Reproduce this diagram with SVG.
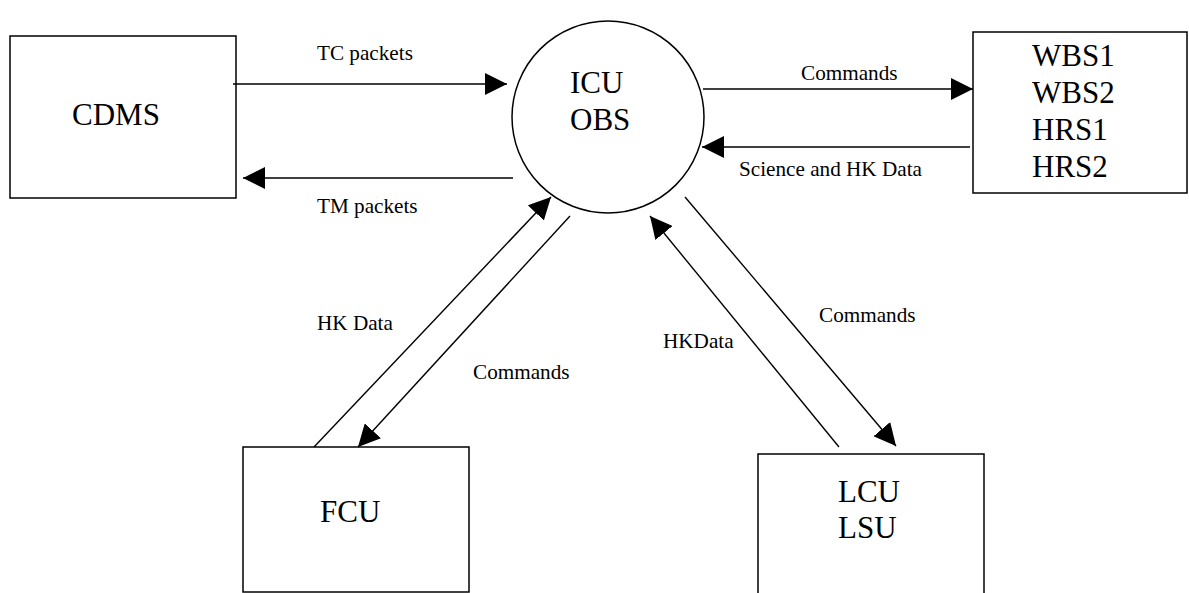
<svg xmlns="http://www.w3.org/2000/svg" width="1189" height="593" viewBox="0 0 1189 593">
<style>
.box{fill:#fff;stroke:#000;stroke-width:1.5}
.big{font-family:'Liberation Serif','Times New Roman','DejaVu Serif',serif;font-size:31px;fill:#000}
.lbl{font-family:'Liberation Serif','Times New Roman','DejaVu Serif',serif;font-size:21.2px;fill:#000}
.ln{stroke:#000;stroke-width:1.4;fill:none;marker-end:url(#ah)}
</style>
<defs>
<marker id="ah" markerUnits="userSpaceOnUse" markerWidth="22" markerHeight="22" refX="22" refY="11" orient="auto" viewBox="0 0 22 22">
<path d="M0,0 L22,11 L0,22 z" fill="#000"/>
</marker>
</defs>
<rect width="1189" height="593" fill="#fff"/>
<g id="cdms">
<rect class="box" x="10" y="36" width="226" height="162"/>
<text class="big" x="72" y="125">CDMS</text>
</g>
<g id="icu">
<circle class="box" cx="608" cy="117" r="96"/>
<text class="big" x="570" y="93">ICU</text>
<text class="big" x="570" y="130">OBS</text>
</g>
<g id="instruments">
<rect class="box" x="973" y="32" width="214" height="161"/>
<text class="big" x="1032" y="66">WBS1</text>
<text class="big" x="1032" y="103">WBS2</text>
<text class="big" x="1032" y="140">HRS1</text>
<text class="big" x="1032" y="177">HRS2</text>
</g>
<g id="fcu">
<rect class="box" x="243" y="447" width="226" height="145"/>
<text class="big" x="320" y="522">FCU</text>
</g>
<g id="lcu">
<rect class="box" x="758" y="454" width="226" height="145"/>
<text class="big" x="838" y="502">LCU</text>
<text class="big" x="838" y="538">LSU</text>
</g>
<g id="connectors">
<line class="ln" x1="233" y1="84" x2="507" y2="84"/>
<line class="ln" x1="513" y1="178" x2="243" y2="178"/>
<line class="ln" x1="703" y1="89" x2="973" y2="89"/>
<line class="ln" x1="970" y1="147" x2="702" y2="147"/>
<line class="ln" x1="314" y1="447" x2="551" y2="197"/>
<line class="ln" x1="570" y1="216" x2="358" y2="447"/>
<line class="ln" x1="839" y1="447" x2="650" y2="216"/>
<line class="ln" x1="685" y1="197" x2="896" y2="446"/>
</g>
<g id="labels">
<text class="lbl" x="317" y="60">TC packets</text>
<text class="lbl" x="317" y="213">TM packets</text>
<text class="lbl" x="801" y="80">Commands</text>
<text class="lbl" x="739" y="176">Science and HK Data</text>
<text class="lbl" x="317" y="330">HK Data</text>
<text class="lbl" x="473" y="379">Commands</text>
<text class="lbl" x="663" y="348">HKData</text>
<text class="lbl" x="819" y="322">Commands</text>
</g>
</svg>
